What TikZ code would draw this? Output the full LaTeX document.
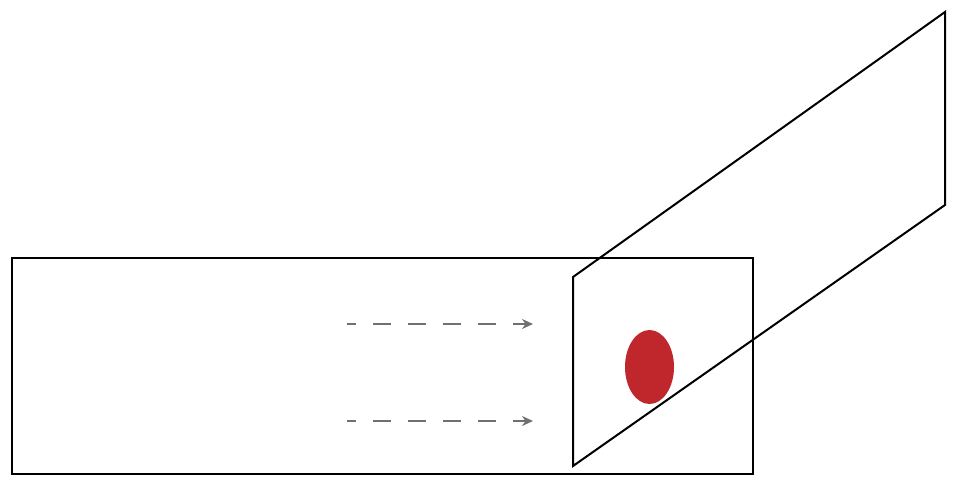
\documentclass[tikz,border=0pt]{standalone}
\usetikzlibrary{arrows.meta, shapes.geometric}
\definecolor{spotred}{RGB}{192,39,45}
\definecolor{raygray}{RGB}{112,112,112}
\tikzset{
	every frame/.style={draw=black, line width=2pt, line join=miter},
	every ray/.style={draw=raygray, line width=2pt, dash pattern=on 18pt off 17pt, dash phase=9pt},
	spot/.style={ellipse, fill=spotred, draw=none, minimum width=49pt, minimum height=74pt, inner sep=0pt}
}
\begin{document}
\begin{tikzpicture}[x=1pt, y=-1pt, >={Stealth[length=11pt,width=10pt]}]

			\useasboundingbox (0,0) rectangle (957,487);

			% draw frames
				% box
				\draw [every frame] (12,258) rectangle (753,474);

				% screen
				\coordinate (screen-1) at (573,277);
				\coordinate (screen-2) at (945,12);
				\coordinate (screen-3) at (945,205);
				\coordinate (screen-4) at (573,466);
				\draw [every frame] (screen-1) -- (screen-2) -- (screen-3) -- (screen-4) -- cycle;

			% spot on the screen
			\node [spot] (spot) at (649.5,367) {};

			% rays
			\foreach \y [count=\i] in {324,421} {
				\coordinate (ray-start-\i) at (347,\y);
				\coordinate (ray-end-\i) at (533,\y);
				\draw [every ray, ->, raygray] (ray-start-\i) -- (ray-end-\i);
			}

			\end{tikzpicture}
\end{document}
